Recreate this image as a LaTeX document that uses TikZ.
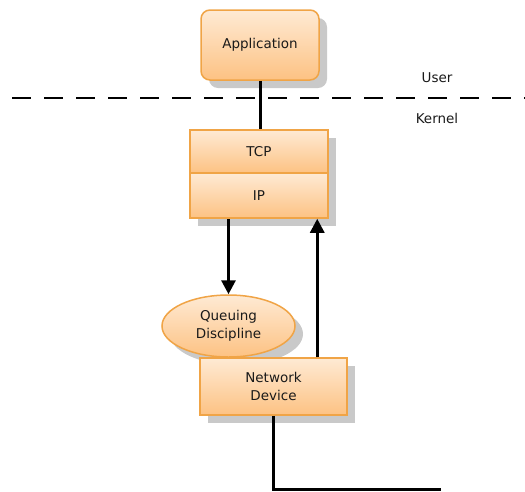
\documentclass[tikz,border=0pt]{standalone}
\usepackage{fontspec}
\setmainfont{DejaVu Sans}
\usetikzlibrary{shadows,arrows.meta,shapes.geometric}
\definecolor{boxtop}{HTML}{FEEAD4}
\definecolor{boxbot}{HTML}{FDC283}
\definecolor{boxline}{HTML}{F0A446}
\definecolor{shade}{HTML}{C9C9C9}
\definecolor{txt}{HTML}{1A1A1A}
\tikzset{
  x=1pt, y=-1pt,
  every node/.style={font=\fontsize{13.5}{17.5}\selectfont, text=txt, inner sep=0pt},
  obox/.style={draw=boxline, line width=1.5pt, top color=boxtop, bottom color=boxbot,
    drop shadow={shadow xshift=8pt, shadow yshift=-8pt, fill=shade, opacity=1},
    align=center},
  arr/.style={line width=3pt, -{Triangle[length=14pt,width=14pt]}},
  plain/.style={line width=3pt},
}
\begin{document}
\begin{tikzpicture}
\useasboundingbox (0,0) rectangle (525,491);
\node[obox, rectangle, rounded corners=9pt, minimum width=118pt, minimum height=70pt] (app) at (260,45) {Application};
\node[obox, rectangle, minimum width=138pt, minimum height=43pt] (tcp) at (259,151.5) {TCP};
\node[obox, rectangle, minimum width=138pt, minimum height=45pt] (ip) at (259,195.5) {IP};
\node[obox, ellipse, minimum width=133pt, minimum height=62pt] (qd) at (228.5,326) {Queuing\\Discipline};
\node[obox, rectangle, minimum width=147pt, minimum height=57pt] (nd) at (273.5,386.5) {Network\\Device};
\node (user) at (437,78) {User};
\node (kernel) at (437,118) {Kernel};
\coordinate (dl1) at (12,98);
\coordinate (dl2) at (525,98);
\coordinate (endpt) at (441,489);
\draw[line width=2.5pt, dash pattern=on 19pt off 13pt] (dl1) -- (dl2);
\draw[plain] (app.south) -- (app.south |- tcp.north);
\draw[arr] (qd.north |- ip.south) -- (qd.north);
\draw[arr] ([xshift=118pt]nd.north west) -- ([xshift=118pt]nd.north west |- ip.south);
\draw[plain] (nd.south) -- (nd.south |- endpt) -- (endpt);
\end{tikzpicture}
\end{document}
